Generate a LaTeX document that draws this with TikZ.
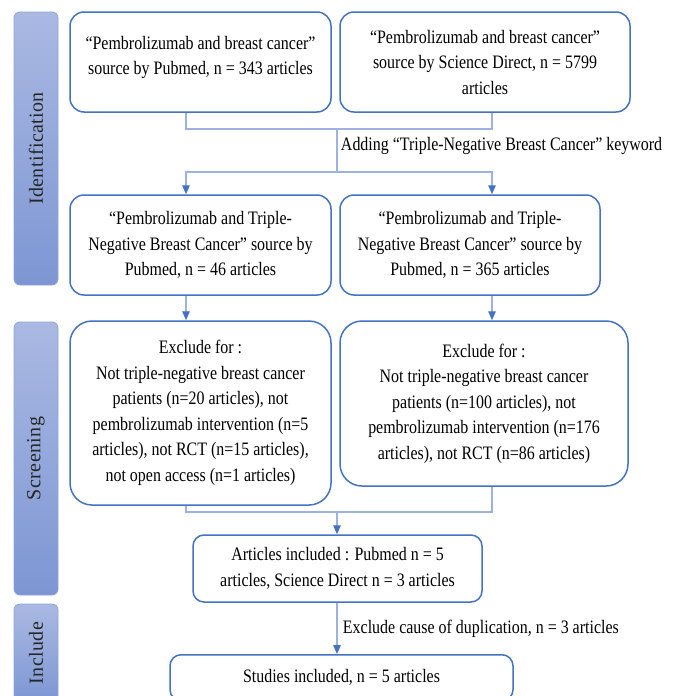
\documentclass[tikz,border=0pt]{standalone}
\usepackage{fontspec}
\setmainfont{Liberation Serif}[FakeStretch=0.84]
\newfontfamily\barfont{Liberation Serif}[LetterSpace=2]
\usepackage{graphicx}
\usepackage{xcolor}
\usetikzlibrary{arrows.meta, positioning, calc}
\definecolor{boxblue}{HTML}{4472C4}
\definecolor{lineblue}{HTML}{9CB2E2}
\definecolor{bartop}{HTML}{AAB9E2}
\definecolor{barbot}{HTML}{7D96D3}
\definecolor{barline}{HTML}{8DA4DB}
\tikzset{
  box/.style={rectangle, rounded corners=14pt, draw=boxblue, line width=1.5pt, fill=white, align=center, inner sep=2pt},
  sidebar/.style={rectangle, rounded corners=6pt, draw=barline, line width=0.8pt, top color=bartop, bottom color=barbot, minimum width=44pt, text=black!85, font=\barfont\fontsize{20}{22}\selectfont},
  link/.style={draw=lineblue, line width=1.3pt},
  flow/.style={link, -{Triangle[length=9pt, width=7.5pt, color=boxblue]}},
}

\begin{document}
\begin{tikzpicture}[x=1pt, y=-1pt, font=\fontsize{19}{25.5}\selectfont]
\useasboundingbox (0,0) rectangle (680,696);
\node[sidebar, minimum height=273pt] (idBar) at (36,148.5) {\rotatebox{90}{Identification}};
\node[sidebar, minimum height=273pt] (scBar) at (36,458.5) {\rotatebox{90}{Screening}};
\node[sidebar, minimum height=98pt] (inBar) at (36,653) {\rotatebox{90}{Include}};

\node[box, minimum width=261pt, minimum height=100pt] (pubA) at (200.5,62) {“Pembrolizumab and breast cancer”\\source by Pubmed, n = 343 articles\\[-12pt]\mbox{}};
\node[box, minimum width=290pt, minimum height=100pt, right=7.5pt of pubA] (sdA) {“Pembrolizumab and breast cancer”\\source by Science Direct, n = 5799\\articles};
\node[box, minimum width=261pt, minimum height=100pt, below=81.5pt of pubA] (pubB) {“Pembrolizumab and Triple-\\Negative Breast Cancer” source by\\Pubmed, n = 46 articles};
\node[box, minimum width=260pt, minimum height=100pt, right=7.5pt of pubB] (sdB) {“Pembrolizumab and Triple-\\Negative Breast Cancer” source by\\Pubmed, n = 365 articles};
\node[box, rounded corners=22pt, minimum width=261pt, minimum height=184pt, below=24.5pt of pubB] (exA) {Exclude for :\\Not triple-negative breast cancer\\patients (n=20 articles), not\\pembrolizumab intervention (n=5\\articles), not RCT (n=15 articles),\\not open access (n=1 articles)};
\node[box, rounded corners=22pt, minimum width=288pt, minimum height=165pt, right=7.5pt of exA.north east, anchor=north west] (exB) {Exclude for :\\Not triple-negative breast cancer\\patients (n=100 articles), not\\pembrolizumab intervention (n=176\\articles), not RCT (n=86 articles)};
\node[box, rounded corners=11pt, minimum width=289pt, minimum height=67pt] (incl) at (337.5,568.5) {Articles included : Pubmed n = 5\\articles, Science Direct n = 3 articles};
\node[box, rounded corners=11pt, minimum width=343pt, minimum height=46pt, anchor=north] (final) at (341.5,654) {Studies included, n = 5 articles};

\coordinate (colA) at (186,0);
\coordinate (colB) at (492,0);
\coordinate (joinA) at (337,129);
\coordinate (splitA) at (337,172);
\coordinate (joinB) at (337,512);

\draw[link] (pubA.south -| colA) |- (joinA);
\draw[link] (sdA.south -| colB) |- (joinA);
\draw[link] (joinA) -- node[right, yshift=5pt]{Adding “Triple-Negative Breast Cancer” keyword} (splitA);
\draw[flow] (splitA) -| (pubB.north -| colA);
\draw[flow] (splitA) -| (sdB.north -| colB);
\draw[flow] (pubB.south -| colA) -- (exA.north -| colA);
\draw[flow] (sdB.south -| colB) -- (exB.north -| colB);
\draw[link] (exA.south -| colA) |- (joinB);
\draw[link] (exB.south -| colB) |- (joinB);
\draw[flow] (joinB) -- (incl.north -| joinB);
\draw[flow] (incl.south -| joinB) -- node[right, xshift=2pt]{Exclude cause of duplication, n = 3 articles} (final.north -| joinB);
\end{tikzpicture}
\end{document}
